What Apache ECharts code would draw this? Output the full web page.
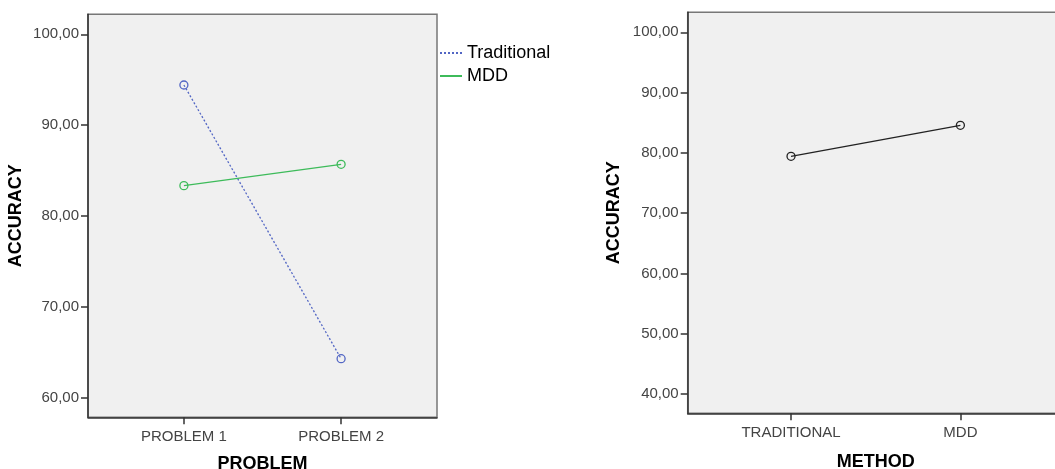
<!DOCTYPE html>
<html>
<head>
<meta charset="utf-8">
<script src="https://cdn.jsdelivr.net/npm/echarts@6/dist/echarts.min.js"></script>
<style>
  html, body { margin: 0; padding: 0; background: #fff; }
  #chart { width: 1055px; height: 469px; }
</style>
</head>
<body>
<div id="chart"></div>
<script>
// left panel: accuracy by problem, one line per method
const problems = ['PROBLEM 1', 'PROBLEM 2']
const traditional = [94.42, 64.29]
const mdd = [83.34, 85.69]
const leftTicks = [60, 70, 80, 90, 100]

// right panel: accuracy by method
const methods = ['TRADITIONAL', 'MDD']
const methodAcc = [79.43, 84.57]
const rightTicks = [40, 50, 60, 70, 80, 90, 100]

const FONT = 'Arial, "Liberation Sans", sans-serif'
const fmt = v => v.toFixed(2).replace('.', ',')
const toXY = arr => arr.map((v, i) => [i + 1, v])

const chart = echarts.init(document.getElementById('chart'))

const gridBase = {
  show: true,
  outerBoundsMode: 'none',
  containLabel: false,
  backgroundColor: '#f0f0f0',
  borderColor: '#777',
  borderWidth: 1.5
}

const xAxisBase = (cats, gap) => ({
  type: 'value',
  min: 0.39,
  max: 2.61,
  nameLocation: 'middle',
  nameGap: gap,
  nameTextStyle: { fontFamily: FONT, fontSize: 18, fontWeight: 'bold', color: '#000' },
  splitLine: { show: false },
  axisLine: { show: true, lineStyle: { color: '#333', width: 1.5 } },
  axisTick: { show: true, length: 7, customValues: [1, 2], lineStyle: { color: '#333', width: 1.5 } },
  axisLabel: {
    customValues: [1, 2],
    formatter: v => cats[Math.round(v) - 1],
    margin: 12,
    fontFamily: FONT,
    fontSize: 15,
    color: '#444'
  }
})

const yAxisBase = (min, max, ticks, gap) => ({
  type: 'value',
  min: min,
  max: max,
  name: 'ACCURACY',
  nameLocation: 'middle',
  nameGap: gap,
  nameTextStyle: { fontFamily: FONT, fontSize: 18, fontWeight: 'bold', color: '#000' },
  splitLine: { show: false },
  axisLine: { show: true, lineStyle: { color: '#333', width: 1.5 } },
  axisTick: { show: true, length: 7, customValues: ticks, lineStyle: { color: '#333', width: 1.5 } },
  axisLabel: {
    customValues: ticks,
    formatter: fmt,
    margin: 9,
    fontFamily: FONT,
    fontSize: 15,
    color: '#444'
  }
})

const lineSeries = (name, data, color, type, xi) => ({
  name: name,
  type: 'line',
  xAxisIndex: xi,
  yAxisIndex: xi,
  data: toXY(data),
  symbol: 'circle',
  symbolSize: 8,
  itemStyle: { color: 'transparent', borderColor: color, borderWidth: 1.3 },
  lineStyle: { color: color, width: 1.3, type: type },
  animation: false
})

chart.setOption({
  animation: false,
  grid: [
    Object.assign({ left: 88, top: 14.3, width: 349, height: 403 }, gridBase),
    Object.assign({ left: 687.7, top: 12.3, width: 376, height: 401 }, gridBase)
  ],
  xAxis: [
    Object.assign({ gridIndex: 0, name: 'PROBLEM' }, xAxisBase(problems, 38)),
    Object.assign({ gridIndex: 1, name: 'METHOD' }, xAxisBase(methods, 40))
  ],
  yAxis: [
    Object.assign({ gridIndex: 0 }, yAxisBase(57.84, 102.2, leftTicks, 63)),
    Object.assign({ gridIndex: 1 }, yAxisBase(36.8, 103.32, rightTicks, 65))
  ],
  legend: {
    data: ['Traditional', 'MDD'],
    orient: 'vertical',
    left: 439,
    top: 43.5,
    padding: 0,
    itemWidth: 22,
    itemHeight: 10,
    itemGap: 4,
    itemTextGap: 4,
    itemStyle: { opacity: 0 },
    textStyle: { fontFamily: FONT, fontSize: 18, color: '#000', lineHeight: 19 }
  },
  series: [
    lineSeries('Traditional', traditional, '#5266c4', [2, 2], 0),
    lineSeries('MDD', mdd, '#3dbb5a', 'solid', 0),
    lineSeries('Method', methodAcc, '#222', 'solid', 1)
  ]
})
</script>
</body>
</html>
